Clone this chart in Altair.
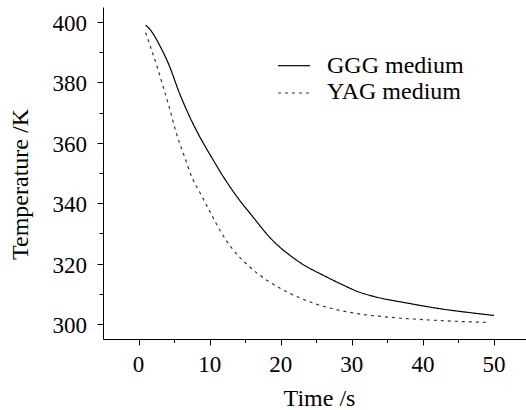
import altair as alt
import pandas as pd

series = ["GGG medium", "YAG medium"]

ggg_t = [1.0, 1.7, 3.1, 4.3, 5.7, 7.1, 8.5, 10.4, 12.0, 13.4, 14.6, 15.8, 18.6, 22.3, 26.5, 28.4, 31.2, 33.1, 37.8, 42.5, 47.1, 50.0]
ggg_T = [399.0, 397.3, 391.7, 385.7, 376.8, 369.1, 362.5, 354.7, 348.5, 343.6, 339.8, 336.3, 328.3, 321.0, 315.5, 313.3, 310.4, 309.1, 306.9, 305.0, 303.6, 302.8]

yag_t = [1.0, 1.7, 2.7, 3.6, 4.3, 5.2, 6.4, 7.6, 8.75, 10.2, 11.6, 13.4, 15.3, 18.1, 21.4, 24.7, 27.9, 30.8, 35.4, 42.5, 49.0]
yag_T = [396.5, 391.7, 384.6, 377.5, 372.0, 364.1, 355.8, 348.1, 343.0, 336.5, 330.4, 324.3, 319.6, 314.4, 310.0, 306.8, 304.7, 303.4, 302.2, 301.1, 300.5]

x_ticks = [0, 5, 10, 15, 20, 25, 30, 35, 40, 45, 50]
y_ticks = [300, 310, 320, 330, 340, 350, 360, 370, 380, 390, 400]
x_labels = [0, 10, 20, 30, 40, 50]
y_labels = [300, 320, 340, 360, 380, 400]

df = pd.concat([
    pd.DataFrame({"t": ggg_t, "T": ggg_T, "s": series[0]}),
    pd.DataFrame({"t": yag_t, "T": yag_T, "s": series[1]}),
])
xl = pd.DataFrame({"t": x_labels, "lab": [str(v) for v in x_labels]})
yl = pd.DataFrame({"T": y_labels, "lab": [str(v) for v in y_labels]})
leg1 = pd.DataFrame({"s": [series[0]]})
leg2 = pd.DataFrame({"s": [series[1]]})

FONT = "Liberation Serif"
xscale = alt.Scale(domain=[-5, 54.5], nice=False, zero=False)
yscale = alt.Scale(domain=[295, 405], nice=False, zero=False)

xaxis = alt.Axis(values=x_ticks, labels=False,
                 tickSize={"condition": {"test": "datum.value % 10 !== 0", "value": 3.5}, "value": 6},
                 title="Time /s",
                 titleX=216, titleY=66, titleBaseline="alphabetic",
                 grid=False)
yaxis = alt.Axis(values=y_ticks, labels=False,
                 tickSize={"condition": {"test": "datum.value % 20 !== 0", "value": 4}, "value": 6},
                 title="Temperature /K",
                 titleX=-76, titleY=177, titleBaseline="alphabetic",
                 grid=False)

lines = alt.Chart(df).mark_line(interpolate="monotone", strokeWidth=1.2).encode(
    x=alt.X("t:Q", scale=xscale, axis=xaxis, title="Time /s"),
    y=alt.Y("T:Q", scale=yscale, axis=yaxis, title="Temperature /K"),
    strokeDash=alt.StrokeDash("s:N", scale=alt.Scale(domain=series, range=[[1, 0], [3, 4]]), legend=None),
    color=alt.Color("s:N", scale=alt.Scale(domain=series, range=["#000000", "#333333"]), legend=None),
)

xtext = alt.Chart(xl).mark_text(font=FONT, fontSize=23, color="black", align="center",
                                baseline="alphabetic").encode(
    x=alt.X("t:Q", scale=xscale, axis=xaxis, title="Time /s"),
    y=alt.value(365),
    text="lab:N",
)

ytext = alt.Chart(yl).mark_text(font=FONT, fontSize=23, color="black", align="right",
                                baseline="alphabetic", dy=9).encode(
    x=alt.value(-16),
    y=alt.Y("T:Q", scale=yscale, axis=yaxis, title="Temperature /K"),
    text="lab:N",
)

leg_line1 = alt.Chart(leg1).mark_rule(color="black", strokeWidth=1.2).encode(
    x=alt.value(175), x2=alt.value(207), y=alt.value(58.7))
leg_line2 = alt.Chart(leg2).mark_rule(color="#333333", strokeWidth=1.2, strokeDash=[3, 4]).encode(
    x=alt.value(175), x2=alt.value(207), y=alt.value(86))
leg_text1 = alt.Chart(leg1).mark_text(font=FONT, fontSize=24, color="black", align="left",
                                      baseline="alphabetic").encode(
    x=alt.value(224), y=alt.value(66), text="s:N")
leg_text2 = alt.Chart(leg2).mark_text(font=FONT, fontSize=24, color="black", align="left",
                                      baseline="alphabetic").encode(
    x=alt.value(224), y=alt.value(92), text="s:N")

chart = alt.layer(lines, xtext, ytext, leg_line1, leg_line2, leg_text1, leg_text2).properties(
    width=423, height=332,
    padding={"left": 103, "top": 7, "right": 0, "bottom": 71},
    autosize=alt.AutoSizeParams(type="none"),
    background="white",
).configure(font=FONT).configure_view(stroke=None).configure_axis(
    domainColor="black", domainWidth=1, tickColor="black", tickWidth=1,
    titleColor="black", titleFont=FONT, titleFontSize=24,
    titleFontWeight="normal",
)

chart.save("out.html", embed_options={"renderer": "svg", "actions": False})
